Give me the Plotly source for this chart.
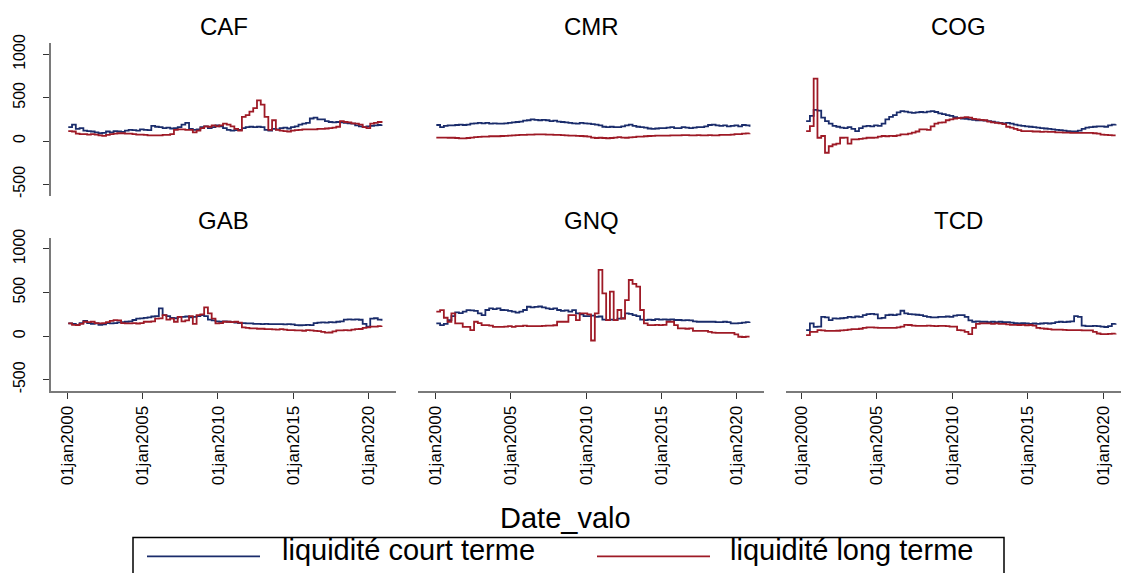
import pandas as pd
import plotly.graph_objects as go
from plotly.subplots import make_subplots

# ---------------- data (quarterly readings, values in the chart's units) ----------------
dates = pd.date_range("2000-02-01", periods=84, freq="3MS")
years = [d.year + (d.month - 1) / 12 for d in dates]

countries = ["CAF", "CMR", "COG", "GAB", "GNQ", "TCD"]
tick_years = [2000, 2005, 2010, 2015, 2020]
tick_labels = ["01jan2000", "01jan2005", "01jan2010", "01jan2015", "01jan2020"]
y_ticks = [-500, 0, 500, 1000]
series_names = ["liquidité court terme", "liquidité long terme"]

caf_court = [160, 190, 140, 150, 120, 115, 110, 100, 90, 95, 110, 100, 115, 110, 105, 120,
             130, 125, 120, 135, 130, 125, 175, 165, 160, 150, 155, 145, 150, 160, 190, 210,
             140, 130, 135, 160, 170, 150, 160, 180, 170, 150, 130, 120, 125, 130, 150, 160,
             165, 160, 165, 160, 130, 120, 140, 135, 150, 155, 145, 160, 170, 190, 200, 210,
             260, 270, 250, 250, 230, 220, 215, 220, 215, 210, 205, 200, 180, 170, 160, 170,
             175, 180, 185, 190]
caf_long = [115, 110, 85, 80, 80, 75, 80, 75, 65, 60, 70, 80, 85, 90, 90, 85,
            85, 80, 75, 75, 70, 65, 65, 65, 65, 70, 70, 80, 130, 135, 135, 130,
            130, 100, 120, 150, 170, 165, 180, 170, 180, 200, 190, 170, 140, 120, 280, 300,
            340, 380, 470, 420, 280, 130, 240, 130, 120, 115, 110, 120, 125, 130, 135, 135,
            135, 135, 140, 140, 145, 150, 155, 165, 230, 220, 215, 205, 200, 190, 160, 150,
            200, 210, 220, 230]

cmr_court = [185, 160, 175, 180, 180, 185, 190, 185, 190, 200, 205, 210, 205, 210, 200, 205,
             200, 200, 205, 210, 215, 220, 225, 235, 240, 250, 245, 240, 245, 240, 230, 235,
             225, 220, 215, 210, 205, 200, 210, 205, 200, 195, 190, 180, 165, 160, 165, 160,
             160, 170, 180, 190, 175, 165, 160, 155, 145, 140, 145, 150, 150, 155, 160, 150,
             150, 160, 155, 150, 155, 160, 160, 170, 185, 190, 180, 175, 180, 170, 175, 180,
             170, 185, 180, 165]
cmr_long = [40, 40, 40, 38, 38, 35, 30, 30, 35, 40, 45, 48, 50, 52, 55, 55,
            55, 58, 60, 62, 65, 68, 70, 72, 75, 75, 78, 78, 78, 75, 75, 72,
            70, 68, 65, 62, 62, 60, 58, 55, 50, 40, 35, 38, 35, 32, 35, 40,
            45, 40, 38, 42, 45, 50, 52, 55, 58, 60, 62, 62, 62, 62, 65, 65,
            65, 68, 68, 65, 65, 68, 66, 65, 68, 65, 66, 70, 70, 72, 75, 80,
            80, 85, 88, 90]

cog_court = [None, 230, 290, 360, 350, 270, 230, 200, 175, 165, 155, 150, 160, 140, 115, 150,
             170, 175, 170, 180, 175, 200, 250, 280, 300, 330, 345, 340, 330, 325, 330, 335,
             330, 340, 345, 335, 320, 310, 300, 290, 275, 265, 260, 255, 250, 245, 240, 240,
             235, 230, 225, 215, 210, 205, 210, 200, 190, 180, 175, 170, 165, 160, 155, 150,
             145, 140, 135, 130, 125, 120, 115, 110, 110, 120, 140, 155, 160, 165, 170, 170,
             165, 180, 190, 195]
cog_long = [None, 115, 173, 720, 38, 58, -135, -60, -40, -30, 38, 40, -30, 20, 20, 25,
            30, 38, 38, 40, 50, 58, 55, 60, 58, 65, 77, 77, 85, 96, 110, 135,
            135, 130, 170, 200, 212, 215, 240, 250, 260, 265, 270, 275, 270, 255, 250, 245,
            240, 225, 215, 210, 205, 195, 165, 155, 140, 125, 115, 115, 115, 110, 110, 105,
            108, 105, 105, 100, 100, 98, 96, 95, 95, 95, 95, 95, 95, 90, 85, 75,
            70, 68, 65, 65]

gab_court = [146, 140, 130, 150, 176, 150, 140, 146, 130, 135, 150, 146, 150, 157, 160, 165,
             170, 185, 200, 203, 210, 215, 225, 230, 318, 240, 230, 210, 205, 222, 220, 225,
             215, 222, 230, 241, 230, 190, 180, 170, 165, 170, 165, 160, 155, 150, 150, 146,
             146, 140, 140, 138, 140, 138, 138, 138, 138, 135, 138, 135, 127, 125, 127, 130,
             127, 150, 155, 157, 155, 160, 157, 165, 170, 190, 192, 190, 192, 188, 140, 110,
             200, 205, 190, 176]
gab_long = [146, 130, 127, 140, 165, 160, 165, 150, 146, 150, 160, 175, 184, 180, 150, 146,
            146, 150, 145, 150, 165, 165, 170, 200, 203, 240, 190, 200, 165, 220, 170, 180,
            230, 140, 241, 250, 330, 260, 200, 146, 150, 165, 165, 160, 165, 155, 100, 95,
            90, 88, 85, 85, 80, 80, 78, 75, 80, 75, 70, 68, 65, 65, 62, 70,
            65, 60, 58, 50, 40, 42, 55, 65, 65, 68, 65, 75, 80, 82, 95, 100,
            108, 110, 115, 118]

gnq_court = [146, 127, 140, 184, 230, 272, 265, 280, 299, 295, 290, 260, 240, 300, 318, 310,
             318, 300, 299, 290, 280, 270, 280, 300, 337, 330, 335, 340, 330, 318, 310, 318,
             300, 290, 295, 280, 299, 260, 250, 230, 230, 235, 220, 225, 190, 184, 190, 184,
             200, 205, 260, 255, 240, 230, 190, 184, 190, 185, 195, 190, 192, 188, 192, 185,
             185, 180, 184, 180, 170, 165, 165, 165, 165, 165, 160, 160, 165, 160, 146, 146,
             150, 155, 160, 165]
gnq_long = [280, 299, 211, 165, 260, 146, 146, 107, 107, 69, 165, 150, 127, 127, 120, 107,
            107, 107, 110, 115, 107, 115, 115, 120, 115, 115, 115, 115, 118, 120, 120, 125,
            165, 165, 165, 242, 242, 184, 260, 260, 250, -50, 260, 759, 490, 184, 510, 184,
            300, 200, 414, 644, 600, 567, 300, 146, 127, 127, 130, 127, 130, 165, 165, 127,
            88, 88, 85, 88, 61, 60, 61, 60, 50, 40, 38, 38, 38, 38, 38, 20,
            -7, -10, -5, -5]

tcd_court = [None, 69, 146, 107, 110, 222, 215, 184, 203, 200, 205, 210, 222, 215, 225, 222,
             240, 253, 255, 250, 203, 210, 240, 245, 240, 250, 291, 260, 253, 250, 245, 240,
             230, 222, 215, 215, 220, 222, 225, 222, 235, 242, 240, 220, 180, 165, 170, 165,
             165, 160, 165, 160, 165, 160, 160, 155, 150, 146, 150, 146, 140, 145, 140, 145,
             150, 145, 150, 160, 165, 160, 165, 170, 230, 220, 120, 115, 115, 118, 115, 110,
             105, 115, 140, 146]
tcd_long = [None, 12, 50, 50, 69, 65, 60, 60, 60, 62, 65, 70, 75, 80, 80, 85,
            95, 100, 100, 98, 95, 95, 95, 95, 95, 100, 110, 130, 128, 120, 118, 118,
            118, 120, 118, 115, 118, 118, 115, 110, 110, 69, 65, 50, 23, 95, 140, 146,
            146, 146, 140, 146, 140, 140, 135, 130, 130, 128, 130, 125, 128, 120, 95, 90,
            85, 80, 75, 75, 75, 72, 70, 70, 70, 68, 65, 65, 65, 50, 30, 23,
            23, 25, 28, 31]

court = [caf_court, cmr_court, cog_court, gab_court, gnq_court, tcd_court]
long_ = [caf_long, cmr_long, cog_long, gab_long, gnq_long, tcd_long]

# ---------------- styling / layout ----------------
W, H = 1121, 573
NAVY = "#1a2c6b"
MAROON = "#9e1a26"
AXIS = "#7a7a7a"
FONT = "Arial, Liberation Sans, sans-serif"


def py(target):
    """vertical pixel position -> paper fraction (compensates observed page offset)"""
    return 1 - ((target - 7.9) / 0.982) / H


col_px = [(51, 396), (418, 764), (786, 1121)]
col_rng = [(1998.94, 2021.79), (1998.87, 2021.79), (1999.0, 2021.19)]
row_px = [(42, 195), (236.7, 390.7)]
title_px = [25, 220]
y_rng = [-633, 1131]

fig = make_subplots(rows=2, cols=3)

for i, c in enumerate(countries):
    r, k = divmod(i, 3)
    fig.add_trace(go.Scatter(x=years, y=court[i], mode="lines", name=series_names[0],
                             line=dict(color=NAVY, width=1.8, shape="hv"), showlegend=False),
                  row=r + 1, col=k + 1)
    fig.add_trace(go.Scatter(x=years, y=long_[i], mode="lines", name=series_names[1],
                             line=dict(color=MAROON, width=1.8, shape="hv"), showlegend=False),
                  row=r + 1, col=k + 1)

for i, c in enumerate(countries):
    r, k = divmod(i, 3)
    bottom = (r == 1)
    left = (k == 0)
    x0, x1 = col_px[k]
    t, b = row_px[r]
    fig.update_xaxes(domain=[x0 / W, x1 / W], range=list(col_rng[k]),
                     tickvals=tick_years, ticktext=tick_labels,
                     showticklabels=bottom, showline=bottom, ticks="outside" if bottom else "",
                     ticklen=6, tickcolor="#333333", tickwidth=1.2,
                     linecolor=AXIS, linewidth=1.5, tickangle=-90,
                     tickfont=dict(family=FONT, size=17, color="black"),
                     showgrid=False, zeroline=False, row=r + 1, col=k + 1)
    fig.update_yaxes(domain=[py(b), py(t)], range=y_rng,
                     tickvals=y_ticks, ticktext=[str(v) for v in y_ticks],
                     showticklabels=left, showline=left, ticks="outside" if left else "",
                     ticklen=6, tickcolor="#333333", tickwidth=1.2,
                     linecolor=AXIS, linewidth=1.5, tickangle=-90,
                     ticklabelstandoff=12,
                     tickfont=dict(family=FONT, size=16, color="black"),
                     showgrid=False, zeroline=False, row=r + 1, col=k + 1)
    cx = (x0 + x1) / 2 if k < 2 else (786 + 1131) / 2
    fig.add_annotation(x=cx / W, y=py(title_px[r]), xref="paper", yref="paper",
                       text=c, showarrow=False, xanchor="center", yanchor="middle",
                       font=dict(family=FONT, size=24, color="black"))

# x-axis title
fig.add_annotation(x=565 / W, y=py(518), xref="paper", yref="paper", text="Date_valo",
                   showarrow=False, xanchor="center", yanchor="middle",
                   font=dict(family=FONT, size=29, color="black"))

# legend (drawn box with line samples and labels)
fig.add_shape(type="rect", xref="paper", yref="paper",
              x0=133 / W, x1=1004 / W, y0=py(600), y1=py(537),
              line=dict(color="black", width=1.5), fillcolor="white", layer="above")
for (lx0, lx1, tx, col, name) in [(147, 260, 280, NAVY, series_names[0]),
                                  (597, 710, 728, MAROON, series_names[1])]:
    fig.add_shape(type="line", xref="paper", yref="paper",
                  x0=lx0 / W, x1=lx1 / W, y0=py(556), y1=py(556),
                  line=dict(color=col, width=1.8), layer="above")
    fig.add_annotation(x=tx / W, y=py(550), xref="paper", yref="paper", text=name,
                       showarrow=False, xanchor="left", yanchor="middle",
                       font=dict(family=FONT, size=29, color="black"))

fig.update_layout(width=W, height=H, margin=dict(l=0, r=0, t=0, b=0),
                  paper_bgcolor="white", plot_bgcolor="white", showlegend=False)

fig.write_html("out.html")
